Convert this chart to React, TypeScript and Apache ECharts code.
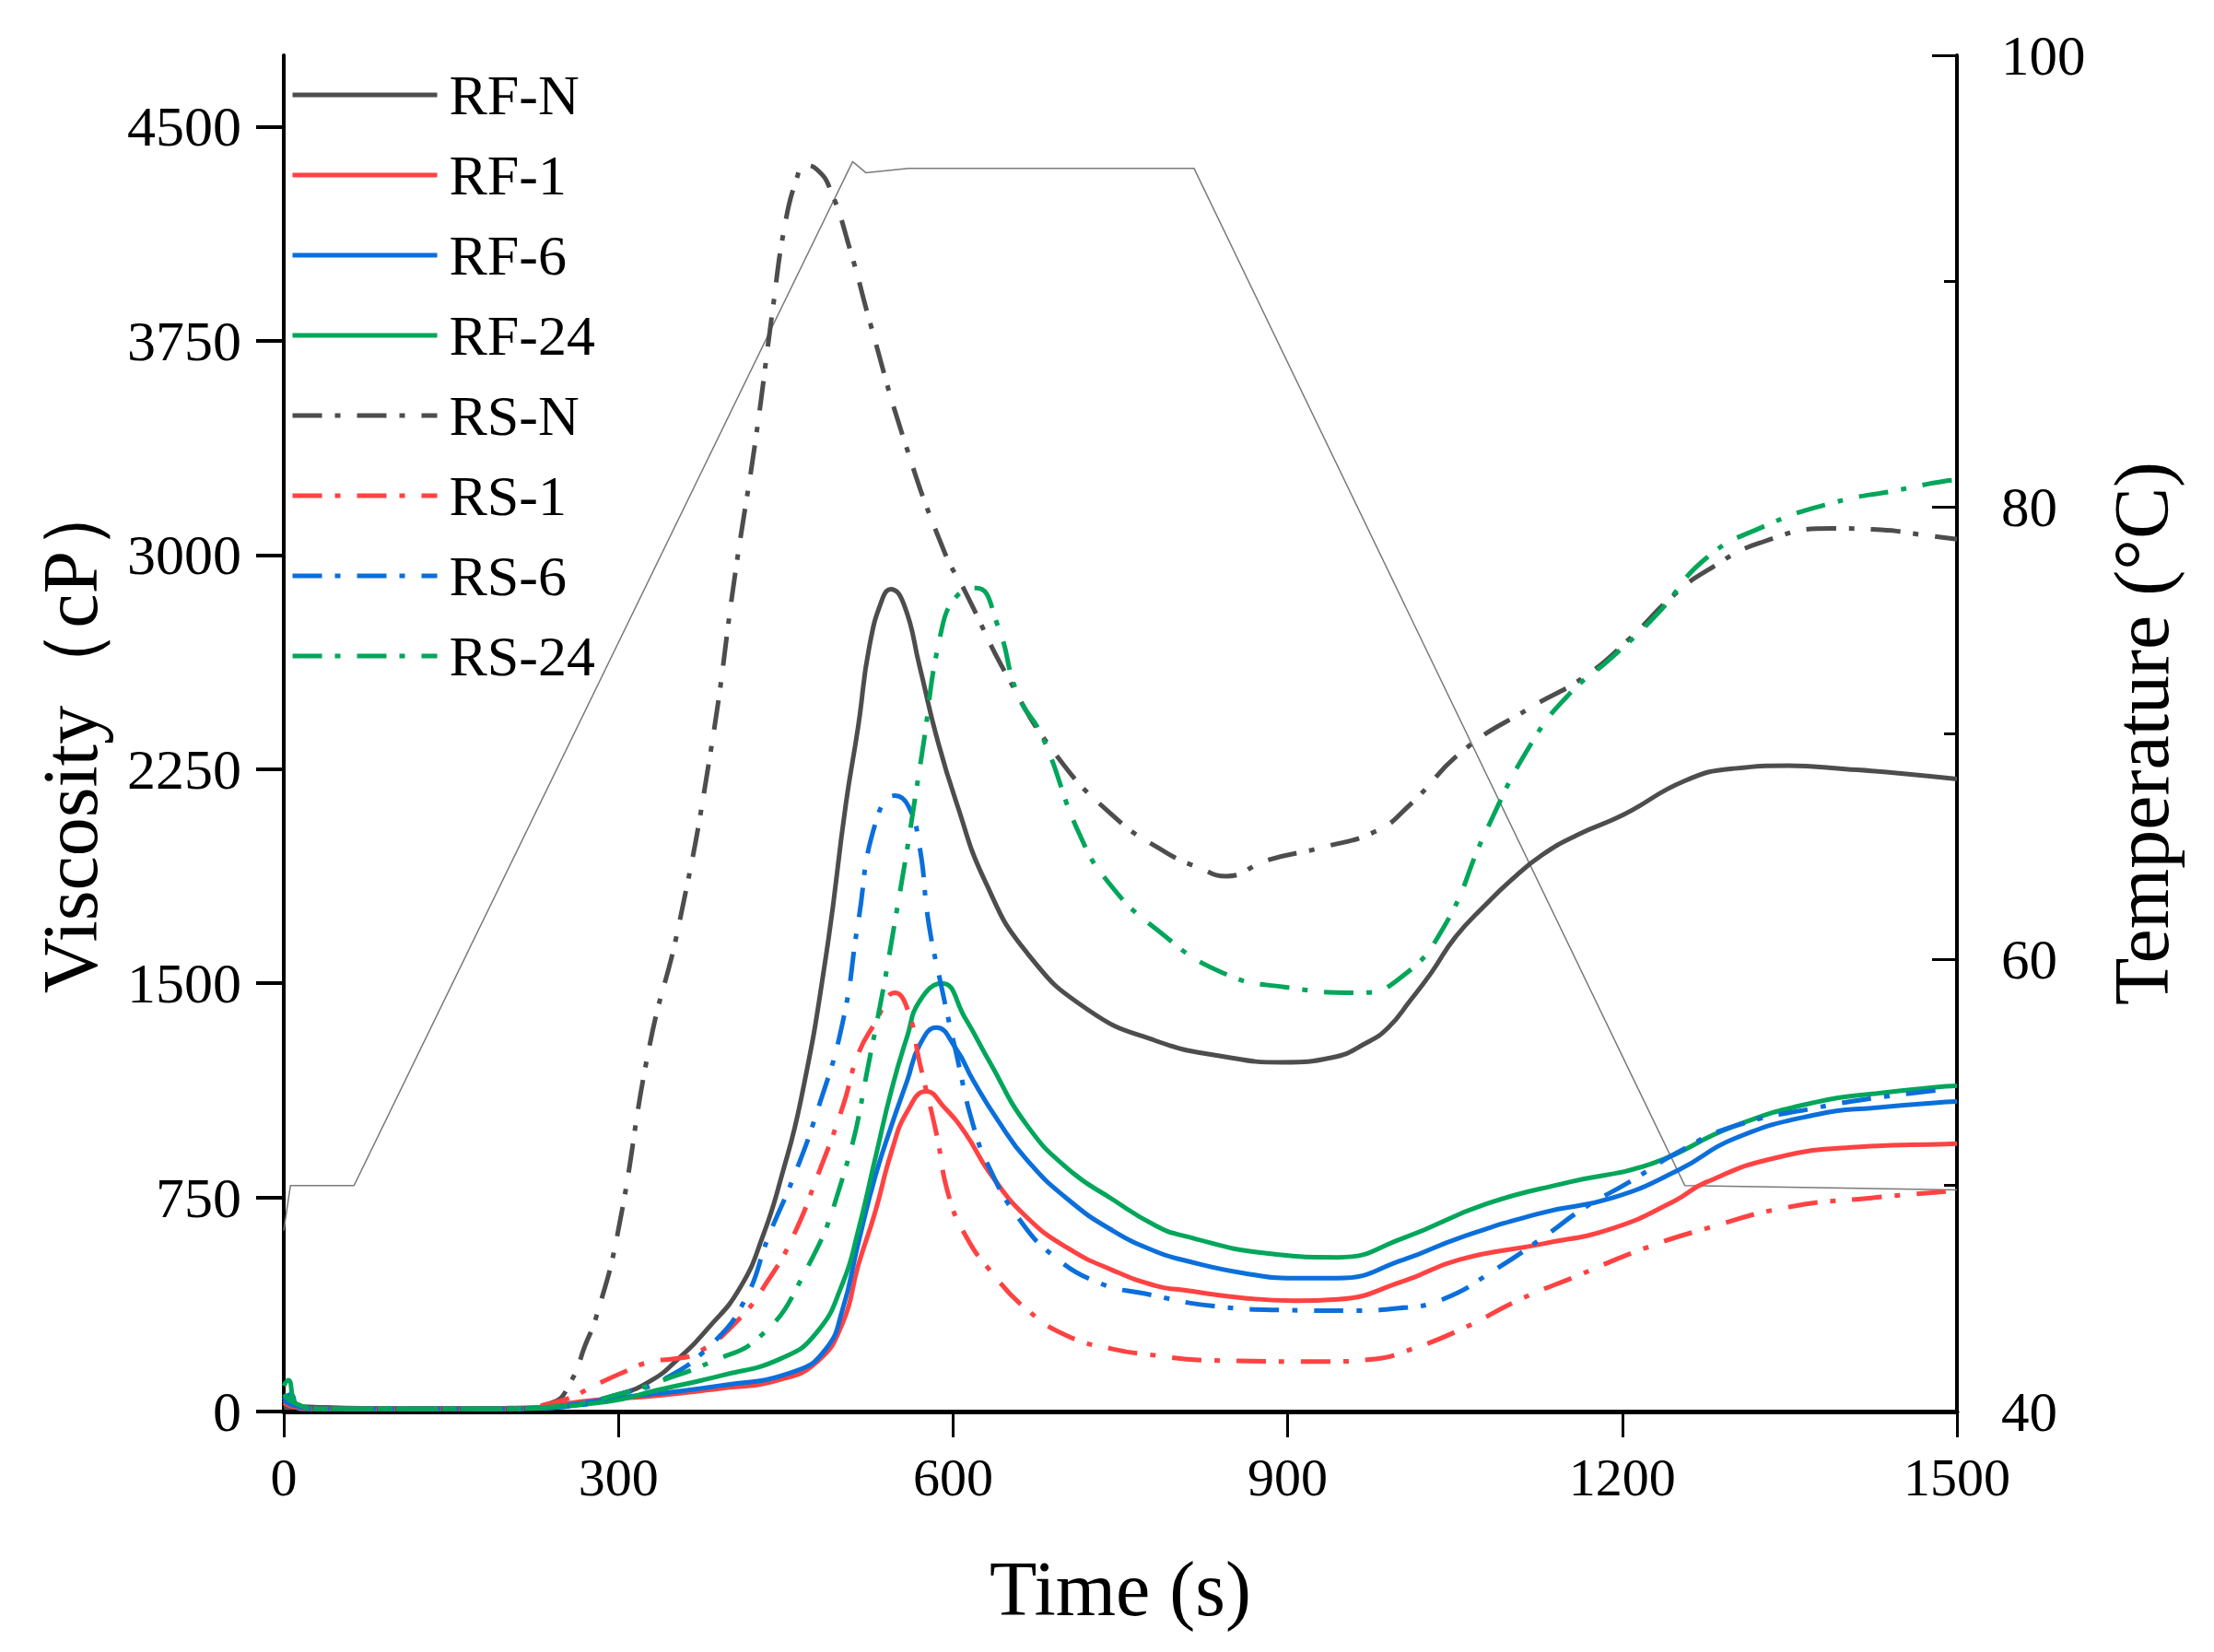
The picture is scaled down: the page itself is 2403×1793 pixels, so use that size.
import { useEffect, useRef } from 'react'
import * as echarts from 'echarts'

// time (s) / viscosity (cP) pairs
const rfN = [
  [0, 20], [100, 10], [200, 12], [250, 20], [300, 60], [330, 110], [354, 186], [380, 290], [409, 433],
  [430, 620], [446, 820], [464, 1099], [486, 1593], [504, 2130], [515, 2400], [525, 2680], [537, 2850],
  [544, 2880], [556, 2826], [570, 2610], [585, 2367], [603, 2133], [629, 1855], [666, 1608], [721, 1407],
  [782, 1298], [840, 1245], [896, 1223], [940, 1240], [970, 1290], [990, 1344], [1010, 1440], [1029, 1538],
  [1050, 1660], [1078, 1777], [1100, 1860], [1128, 1949], [1160, 2020], [1201, 2090], [1256, 2209],
  [1300, 2252], [1349, 2262], [1400, 2250], [1450, 2235], [1500, 2215],
]
const rf1 = [
  [0, 30], [6, 40], [15, 10], [200, 10], [280, 40], [335, 56], [390, 80], [442, 109], [478, 174], [501, 310],
  [515, 512], [530, 696], [545, 912], [559, 1051], [576, 1121], [592, 1066], [611, 975], [633, 835],
  [666, 681], [703, 572], [743, 495], [782, 440], [807, 425], [860, 398], [906, 388], [945, 393],
  [1004, 457], [1054, 532], [1128, 587], [1191, 641], [1246, 736], [1275, 803], [1339, 890], [1413, 927],
  [1490, 937], [1500, 938],
]
const rf6 = [
  [0, 40], [6, 60], [15, 10], [200, 10], [315, 55], [390, 90], [457, 139], [486, 219], [501, 358],
  [515, 589], [530, 820], [545, 1004], [559, 1160], [570, 1283], [585, 1345], [603, 1268], [618, 1160],
  [640, 1021], [666, 882], [703, 743], [743, 634], [782, 560], [807, 530], [860, 485], [906, 467],
  [945, 467], [1004, 532], [1054, 608], [1128, 696], [1191, 748], [1251, 847], [1300, 955], [1374, 1040],
  [1430, 1065], [1490, 1084], [1500, 1086],
]
const rf24 = [
  [0, 90], [4, 110], [12, 20], [30, 10], [200, 10], [290, 35], [335, 75], [390, 124], [446, 186],
  [478, 278], [501, 449], [515, 634], [530, 882], [545, 1129], [559, 1315], [570, 1437], [590, 1500],
  [611, 1377], [633, 1223], [666, 1004], [703, 850], [743, 743], [782, 650], [807, 615], [881, 554],
  [945, 540], [1004, 608], [1078, 727], [1152, 803], [1226, 868], [1300, 999], [1374, 1084], [1430, 1115],
  [1490, 1139], [1500, 1141],
]
const rsN = [
  [0, 15], [100, 10], [200, 10], [240, 30], [258, 110], [270, 230], [280, 330], [299, 617], [328, 1283],
  [354, 1700], [383, 2319], [405, 2943], [423, 3404], [438, 3850], [449, 4150], [460, 4320], [467, 4365],
  [478, 4350], [490, 4280], [508, 4065], [526, 3808], [556, 3404], [592, 3013], [611, 2871], [648, 2580],
  [691, 2307], [743, 2088], [790, 1960], [822, 1902], [845, 1875], [881, 1930], [930, 1975], [980, 2034],
  [1009, 2123], [1058, 2317], [1118, 2466], [1167, 2576], [1206, 2705], [1246, 2859], [1275, 2943],
  [1324, 3043], [1388, 3093], [1432, 3088], [1470, 3070], [1500, 3055],
]
const rs1 = [
  [0, 30], [10, 15], [30, 10], [200, 10], [250, 40], [280, 94], [300, 130], [328, 174], [350, 185],
  [368, 201], [405, 311], [435, 464], [457, 617], [478, 820], [501, 1066], [515, 1252], [530, 1360],
  [548, 1467], [560, 1400], [570, 1223], [585, 975], [596, 758], [611, 618], [633, 495], [666, 358],
  [703, 264], [743, 219], [772, 201], [832, 179], [930, 175], [980, 185], [1004, 209], [1054, 285],
  [1108, 392], [1162, 479], [1216, 566], [1275, 641], [1349, 716], [1423, 748], [1490, 770],
]
const rs6 = [
  [0, 40], [10, 20], [30, 10], [200, 10], [260, 20], [302, 62], [339, 109], [383, 234], [413, 388],
  [435, 617], [457, 820], [478, 1049], [501, 1362], [515, 1715], [530, 2055], [548, 2157], [560, 2120],
  [570, 1978], [578, 1715], [589, 1499], [603, 1252], [618, 1004], [633, 850], [658, 681], [691, 542],
  [732, 449], [772, 413], [832, 370], [900, 355], [955, 353], [1000, 362], [1039, 393], [1088, 502],
  [1128, 607], [1167, 716], [1206, 803], [1251, 911], [1300, 999], [1374, 1064], [1430, 1100], [1490, 1128],
]
const rs24 = [
  [0, 60], [10, 30], [30, 10], [200, 10], [250, 20], [300, 60], [340, 110], [383, 174], [427, 263],
  [464, 464], [500, 805], [526, 1252], [552, 1810], [572, 2300], [589, 2725], [603, 2854], [621, 2884],
  [640, 2754], [658, 2511], [680, 2364], [713, 2025], [740, 1850], [782, 1690], [842, 1536], [900, 1485],
  [965, 1467], [1000, 1516], [1039, 1690], [1078, 2034], [1118, 2337], [1152, 2511], [1191, 2642],
  [1231, 2792], [1275, 2988], [1324, 3095], [1388, 3182], [1447, 3227], [1490, 3259], [1500, 3262],
]
// time (s) / temperature (°C)
const temperature = [
  [0, 48], [6, 50], [63, 50], [510, 95.3], [522, 94.8], [560, 95], [816, 95], [1256, 50], [1500, 49.8],
]

const viscosityTicks = [0, 750, 1500, 2250, 3000, 3750, 4500]

const GRAY = '#4d4d4d'
const RED = '#ff4242'
const BLUE = '#0b6fdb'
const GREEN = '#00a65a'
const DASH_DOT = [32, 14, 6, 18]
const FONT = 'Liberation Serif, Times New Roman, serif'

const lines = [
  { name: 'RF-N', data: rfN, color: GRAY, dashed: false },
  { name: 'RF-1', data: rf1, color: RED, dashed: false },
  { name: 'RF-6', data: rf6, color: BLUE, dashed: false },
  { name: 'RF-24', data: rf24, color: GREEN, dashed: false },
  { name: 'RS-N', data: rsN, color: GRAY, dashed: true },
  { name: 'RS-1', data: rs1, color: RED, dashed: true },
  { name: 'RS-6', data: rs6, color: BLUE, dashed: true },
  { name: 'RS-24', data: rs24, color: GREEN, dashed: true },
]

export default function App() {
  const chartRef = useRef<HTMLDivElement>(null)

  useEffect(() => {
    document.body.style.margin = '0'
    if (!chartRef.current) return
    const chart = echarts.init(chartRef.current, null, { renderer: 'svg' })

    const axisLine = (w: number) => ({ show: true, lineStyle: { color: '#000', width: w } })
    const labelStyle = { fontFamily: FONT, color: '#000', formatter: (v: number) => String(v) }
    const nameStyle = { fontFamily: FONT, fontSize: 84, color: '#000' }

    const option: echarts.EChartsOption = {
      animation: false,
      backgroundColor: '#fff',
      grid: { left: 308, right: 279, top: 60, bottom: 261 },
      legend: {
        orient: 'vertical',
        left: 315,
        top: 72,
        itemWidth: 157,
        itemHeight: 12,
        itemGap: 25,
        padding: 0,
        selectedMode: false,
        itemStyle: { opacity: 0 },
        lineStyle: { width: 5 },
        data: lines.map((l) => l.name),
        textStyle: { fontFamily: FONT, fontSize: 62, color: '#000', padding: [0, 0, 0, 8] },
      },
      xAxis: {
        type: 'value',
        min: 0,
        max: 1500,
        interval: 300,
        name: 'Time (s)',
        nameLocation: 'middle',
        nameGap: 150,
        nameTextStyle: nameStyle,
        axisLine: axisLine(5),
        axisTick: { show: true, inside: false, length: 28, lineStyle: { color: '#000', width: 3 } },
        axisLabel: { ...labelStyle, fontSize: 58, margin: 42 },
        splitLine: { show: false },
      },
      yAxis: [
        {
          type: 'value',
          min: 0,
          max: 4750,
          name: 'Viscosity（cP）',
          nameLocation: 'middle',
          nameRotate: 90,
          nameGap: 190,
          nameTextStyle: nameStyle,
          axisLine: axisLine(4),
          axisTick: {
            show: true,
            inside: false,
            length: 30,
            customValues: viscosityTicks,
            lineStyle: { color: '#000', width: 4 },
          },
          axisLabel: { ...labelStyle, fontSize: 62, margin: 46, customValues: viscosityTicks },
          splitLine: { show: false },
        },
        {
          type: 'value',
          position: 'right',
          min: 40,
          max: 100,
          interval: 20,
          name: 'Temperature (°C)',
          nameLocation: 'middle',
          nameRotate: 90,
          nameGap: 158,
          nameTextStyle: nameStyle,
          axisLine: axisLine(4),
          axisTick: { show: true, inside: true, length: 27, lineStyle: { color: '#000', width: 3 } },
          minorTick: { show: true, splitNumber: 2, length: 14, lineStyle: { color: '#000', width: 3 } },
          axisLabel: { ...labelStyle, fontSize: 61, margin: 48 },
          splitLine: { show: false },
        },
      ],
      series: [
        {
          name: 'Temperature',
          type: 'line',
          yAxisIndex: 1,
          data: temperature,
          showSymbol: false,
          symbol: 'none',
          lineStyle: { color: '#7a7a7a', width: 1.5 },
          silent: true,
          z: 1,
        },
        ...lines.map((l) => ({
          name: l.name,
          type: 'line' as const,
          data: l.data,
          symbol: 'none',
          showSymbol: false,
          smooth: true,
          color: l.color,
          lineStyle: { color: l.color, width: 5, type: l.dashed ? DASH_DOT : 'solid' },
          silent: true,
          z: 2,
        })),
      ],
    }

    chart.setOption(option)
    return () => chart.dispose()
  }, [])

  return <div ref={chartRef} style={{ width: 2403, height: 1793 }} />
}
